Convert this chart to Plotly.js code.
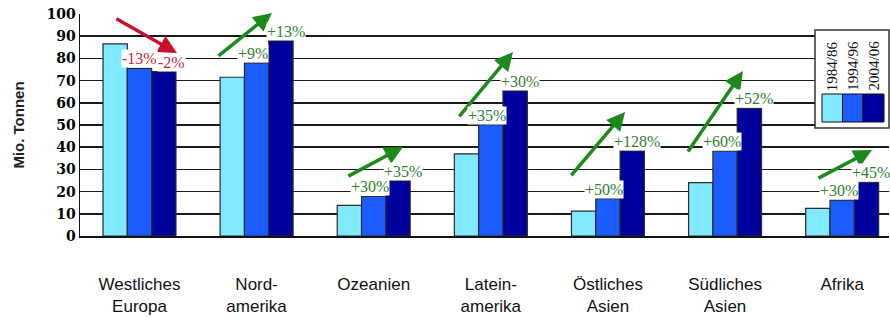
<!DOCTYPE html>
<html>
<head>
<meta charset="utf-8">
<script src="https://cdn.plot.ly/plotly-3.0.1.min.js"></script>
<style>html,body{margin:0;padding:0;background:#fff;}#chart{width:890px;height:318px;}</style>
</head>
<body>
<div id="chart"></div>
<script>
// ---- data ----
const regions = ['Westliches Europa','Nordamerika','Ozeanien','Lateinamerika','Östliches Asien','Südliches Asien','Afrika'];
const tickLabels = ['Westliches<br>Europa','Nord-<br>amerika','Ozeanien','Latein-<br>amerika','Östliches<br>Asien','Südliches<br>Asien','Afrika'];
const periods = ['1984/86','1994/96','2004/06'];
const v1984 = [86.5, 71.5, 13.8, 37.0, 11.2, 24.0, 12.4];
const v1994 = [75.5, 78.0, 17.8, 50.2, 16.8, 38.2, 16.2];
const v2004 = [74.0, 88.0, 25.0, 65.5, 38.3, 57.5, 24.2];
const change1 = ['-13%','+9%','+30%','+35%','+50%','+60%','+30%'];
const change2 = ['-2%','+13%','+35%','+30%','+128%','+52%','+45%'];
// trend arrows: [tailX, tailY, headX, headY] in axis units
const arrows = [
  [-0.21, 98.2, 0.32, 82.4],
  [0.662, 80.6, 1.131, 100.5],
  [1.771, 26.6, 2.250, 40.1],
  [2.72, 53.2, 3.189, 82.9],
  [3.676, 26.6, 4.146, 55.9],
  [4.675, 37.4, 5.153, 74.3],
  [5.785, 25.7, 6.255, 38.7]
];

const colors = ['#80E8FF','#1A5CFF','#00009C'];
const xs = regions.map((_, i) => i);
const series = [v1984, v1994, v2004];

const traces = series.map((vals, k) => ({
  type: 'bar', x: xs, y: vals, name: periods[k],
  marker: {color: colors[k], line: {color: '#2a2a2a', width: 1.2}},
  hoverinfo: 'skip'
}));

const W = 890, H = 318;
const M = {l: 80, r: 1, t: 14, b: 82};
const pw = W - M.l - M.r, ph = H - M.t - M.b;
const px2x = p => (p - M.l) / pw;
const py2y = p => (H - M.b - p) / ph;

const annotations = [];
const red = '#C8102E', redText = '#C4283C', green = '#1B8A1B', greenText = '#2E7F2E';
arrows.forEach((a, i) => {
  annotations.push({
    x: a[2], y: a[3], ax: a[0], ay: a[1], xref: 'x', yref: 'y', axref: 'x', ayref: 'y',
    text: '', showarrow: true, arrowhead: 2, arrowsize: 1.05, arrowwidth: 3.5,
    arrowcolor: i === 0 ? red : green, standoff: 0, startstandoff: 0
  });
});
const pctFont = c => ({family: 'Liberation Serif, Times New Roman, serif', size: 16, color: c});
const midOffset = regions.map((_, i) => i === 0 ? 0.0 : -0.03);
const darkOffset = regions.map((_, i) => i === 0 ? 0.27 : 0.25);
regions.forEach((r, i) => {
  const c = i === 0 ? redText : greenText;
  annotations.push({x: i + midOffset[i], y: v1994[i], xref: 'x', yref: 'y', yanchor: 'bottom', yshift: 0,
    text: change1[i], showarrow: false, bgcolor: '#ffffff', borderpad: 0, font: pctFont(c)});
  annotations.push({x: i + darkOffset[i], y: v2004[i], xref: 'x', yref: 'y', yanchor: 'bottom', yshift: 0,
    text: change2[i], showarrow: false, bgcolor: '#ffffff', borderpad: 0, font: pctFont(c)});
});

// custom legend box
const shapes = [];
shapes.push({type: 'rect', xref: 'paper', yref: 'paper', x0: px2x(815), x1: px2x(889), y0: py2y(128), y1: py2y(30),
  fillcolor: '#ffffff', line: {color: '#333', width: 1.5}, layer: 'above'});
const swX = [822, 842.5, 863, 884];
periods.forEach((p, k) => {
  shapes.push({type: 'rect', xref: 'paper', yref: 'paper', x0: px2x(swX[k]), x1: px2x(swX[k+1]), y0: py2y(122), y1: py2y(94),
    fillcolor: colors[k], line: {color: '#111', width: 1}, layer: 'above'});
  annotations.push({xref: 'paper', yref: 'paper', x: px2x((swX[k] + swX[k+1]) / 2), y: py2y(66),
    text: p, textangle: -90, showarrow: false, xanchor: 'center', yanchor: 'middle',
    font: {family: 'Liberation Serif, Times New Roman, serif', size: 15, color: '#111'}});
});

const layout = {
  width: W, height: H, margin: M,
  paper_bgcolor: '#ffffff', plot_bgcolor: '#ffffff',
  showlegend: false, barmode: 'group', bargap: 0.377, bargroupgap: 0,
  xaxis: {range: [-0.508, 6.4], tickvals: xs, ticktext: tickLabels, ticks: '', showgrid: false, zeroline: false,
    showline: true, linecolor: '#111', linewidth: 1.5, ticklabelstandoff: 32,
    tickfont: {family: 'Liberation Sans, Arial, sans-serif', size: 17, color: '#111'}},
  yaxis: {range: [0, 100], dtick: 10, tick0: 0, showgrid: true, gridcolor: '#1a1a1a', gridwidth: 1.5,
    zeroline: false, showline: true, linecolor: '#111', linewidth: 1.5, ticks: '',
    tickfont: {family: 'DejaVu Serif, serif', size: 14, color: '#000', weight: 'bold'},
    title: {text: 'Mio. Tonnen', standoff: 18, font: {family: 'Liberation Sans, Arial, sans-serif', size: 15, color: '#222', weight: 'bold'}}},
  annotations: annotations, shapes: shapes
};

Plotly.newPlot('chart', traces, layout, {displayModeBar: false, staticPlot: true});
</script>
</body>
</html>
